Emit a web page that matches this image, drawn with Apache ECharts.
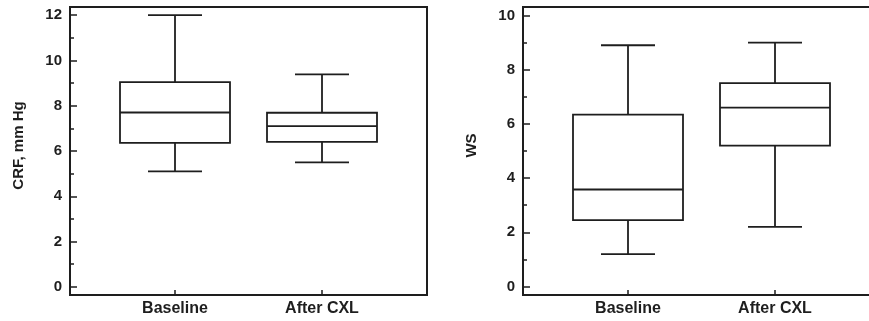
<!DOCTYPE html>
<html>
<head>
<meta charset="utf-8">
<script src="https://cdn.jsdelivr.net/npm/echarts@6/dist/echarts.min.js"></script>
<style>html,body{margin:0;padding:0;background:#fff;}#c{width:869px;height:321px;}</style>
</head>
<body>
<div id="c"></div>
<script>
// Data
var categories = ['Baseline', 'After CXL'];
// [min, Q1, median, Q3, max]
var crfBaseline = [5.1, 6.36, 7.7, 9.04, 12.0];
var crfAfter = [5.5, 6.4, 7.1, 7.69, 9.38];
var wsBaseline = [1.2, 2.45, 3.58, 6.34, 8.9];
var wsAfter = [2.2, 5.2, 6.6, 7.5, 9.0];
var crfMajorTicks = [0, 2, 4, 6, 8, 10, 12];
var crfMinorTicks = [1, 3, 5, 7, 9, 11];
var wsMajorTicks = [0, 2, 4, 6, 8, 10];
var wsMinorTicks = [1, 3, 5, 7, 9];

var FONT = 'Liberation Sans, Arial, sans-serif';
var INK = '#1e1e1e';
var BOX_HALF = 55;
var CAP_HALF = 27;
var BOUNDS = {left: -200, right: -200, top: -200, bottom: -200};

function frameGrid(left) {
  return {left: left, top: 7, width: 357, height: 288, show: true, outerBoundsMode: 'none',
    outerBounds: BOUNDS, containLabel: false, borderColor: INK, borderWidth: 2,
    backgroundColor: 'transparent'};
}
function dataGrid(left) {
  return {left: left, top: 7, width: 147, height: 288, show: false, outerBoundsMode: 'none',
    outerBounds: BOUNDS, containLabel: false};
}
function majorY(grid, min, max, ticks, name) {
  return {
    type: 'value', gridIndex: grid, min: min, max: max, position: 'left',
    axisLine: {show: false, onZero: false}, splitLine: {show: false},
    axisTick: {show: true, inside: true, length: 7, customValues: ticks,
      lineStyle: {color: INK, width: 1.5}},
    axisLabel: {show: true, customValues: ticks, margin: 8, fontSize: 15, fontWeight: 'bold',
      color: INK, fontFamily: FONT},
    name: name, nameLocation: 'middle', nameGap: 44, nameRotate: 90,
    nameTextStyle: {fontSize: 15, fontWeight: 'bold', color: INK, fontFamily: FONT,
      padding: [0, 0, 0, 11]}
  };
}
function minorY(grid, min, max, ticks) {
  return {
    type: 'value', gridIndex: grid, min: min, max: max, position: 'left', offset: 105,
    axisLine: {show: false, onZero: false}, splitLine: {show: false},
    axisTick: {show: true, inside: true, length: 4, customValues: ticks,
      lineStyle: {color: INK, width: 1.5}},
    axisLabel: {show: false}
  };
}
function catX(grid) {
  return {
    type: 'category', gridIndex: grid, data: categories, boundaryGap: false, position: 'bottom',
    axisLine: {show: false, onZero: false}, splitLine: {show: false},
    axisTick: {show: true, inside: true, length: 5, lineStyle: {color: INK, width: 1.5}},
    axisLabel: {show: true, margin: 6, fontSize: 16, fontWeight: 'bold', color: INK, fontFamily: FONT}
  };
}
function hiddenX(grid) {
  return {type: 'value', gridIndex: grid, show: false, min: 0, max: 1,
    axisLine: {onZero: false}, splitLine: {show: false}};
}
function renderBox(params, api) {
  var c = api.value(0);
  var pMin = api.coord([c, api.value(1)]);
  var pQ1 = api.coord([c, api.value(2)]);
  var pMed = api.coord([c, api.value(3)]);
  var pQ3 = api.coord([c, api.value(4)]);
  var pMax = api.coord([c, api.value(5)]);
  var x = pMed[0];
  var st = {stroke: INK, lineWidth: 1.8, fill: null};
  function line(x1, y1, x2, y2) {
    return {type: 'line', shape: {x1: x1, y1: y1, x2: x2, y2: y2}, style: st};
  }
  return {
    type: 'group',
    children: [
      {type: 'rect', shape: {x: x - BOX_HALF, y: pQ3[1], width: 2 * BOX_HALF, height: pQ1[1] - pQ3[1]},
        style: {stroke: INK, lineWidth: 1.8, fill: 'rgba(255,255,255,0)'}},
      line(x - BOX_HALF, pMed[1], x + BOX_HALF, pMed[1]),
      line(x, pQ3[1], x, pMax[1]),
      line(x, pQ1[1], x, pMin[1]),
      line(x - CAP_HALF, pMax[1], x + CAP_HALF, pMax[1]),
      line(x - CAP_HALF, pMin[1], x + CAP_HALF, pMin[1])
    ]
  };
}
function boxData(list) {
  return list.map(function (v, i) { return [i].concat(v); });
}
function box(xi, yi, list) {
  return {
    type: 'custom', xAxisIndex: xi, yAxisIndex: yi, silent: true, clip: false,
    data: boxData(list),
    encode: {x: 0, y: [1, 2, 3, 4, 5]},
    renderItem: renderBox
  };
}

var chart = echarts.init(document.getElementById('c'), null, {renderer: 'canvas'});
chart.setOption({
  animation: false,
  backgroundColor: '#fff',
  grid: [frameGrid(70), dataGrid(175), frameGrid(523), dataGrid(628)],
  xAxis: [hiddenX(0), catX(1), hiddenX(2), catX(3)],
  yAxis: [
    majorY(0, -0.36, 12.36, crfMajorTicks, 'CRF, mm Hg'),
    minorY(1, -0.36, 12.36, crfMinorTicks),
    majorY(2, -0.31, 10.31, wsMajorTicks, 'WS'),
    minorY(3, -0.31, 10.31, wsMinorTicks)
  ],
  series: [
    box(1, 1, [crfBaseline, crfAfter]),
    box(3, 3, [wsBaseline, wsAfter])
  ]
});
</script>
</body>
</html>
